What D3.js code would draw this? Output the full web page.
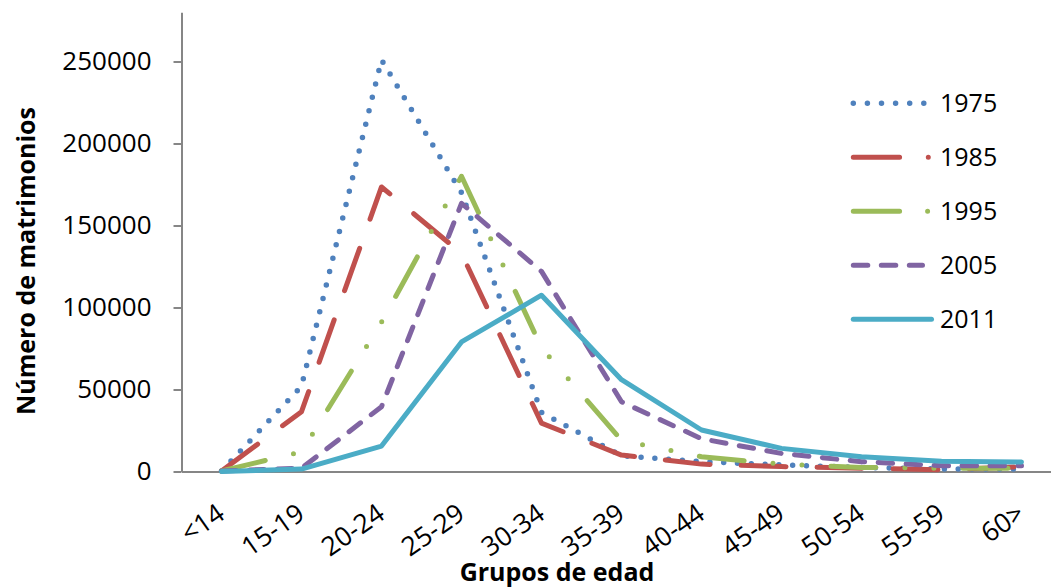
<!DOCTYPE html>
<html><head><meta charset="utf-8">
<script src="https://cdn.jsdelivr.net/npm/d3@7"></script>
<style>
body{margin:0;background:#fff}
svg{display:block}
text{font-family:"Open Sans",sans-serif}
</style>
</head><body>
<svg id="c" width="1051" height="587"></svg>
<script>
const categories = ["<14","15-19","20-24","25-29","30-34","35-39","40-44","45-49","50-54","55-59","60>"];
const s1975 = [300, 52000, 251000, 170000, 36000, 9500, 6000, 4000, 2500, 1500, 1500];
const s1985 = [300, 36500, 173500, 133000, 29500, 10000, 4500, 3000, 2000, 1000, 3000];
const s1995 = [300, 12000, 91000, 180000, 75500, 19000, 9000, 4500, 2500, 2000, 2000];
const s2005 = [300, 2000, 39500, 163500, 122000, 42500, 20000, 11000, 6000, 3500, 3500];
const s2011 = [0, 1500, 15500, 79000, 107500, 56000, 25300, 14100, 9000, 6300, 5800];
const seriesNames = ["1975","1985","1995","2005","2011"];
const yTicks = [0, 50000, 100000, 150000, 200000, 250000];
const xTitle = "Grupos de edad";
const yTitle = "Número de matrimonios";

const seriesValues = [s1975, s1985, s1995, s2005, s2011];
const colors = ["#4F81BD", "#C0504D", "#9BBB59", "#8064A2", "#4BACC6"];
const dashes = ["0 13.8", "45 31", "45 29 0 29 0 29", "14.5 13.5", null];
const legendDashes = ["0 14.1", "46.3 28.7 0 100", "46.3 28 0 100", "14.5 13.5", null];
const lw = 5;

const svg = d3.select("#c");
const xb = d3.scaleBand().domain(categories).range([181.5, 1061.5]).padding(0);
const xc = c => xb(c) + xb.bandwidth() / 2;
const y = d3.scaleLinear().domain([0, 280000]).range([471.5, 12.3]);

// Y axis
const ya = svg.append("g").attr("transform", "translate(181.5,0)")
  .call(d3.axisLeft(y).tickValues(yTicks).tickSize(8).tickSizeOuter(0).tickPadding(22).tickFormat(d3.format("d")));
ya.select(".domain").attr("stroke", "#868686").attr("stroke-width", 2);
ya.selectAll(".tick line").attr("stroke", "#868686").attr("stroke-width", 2);
ya.selectAll(".tick text").attr("font-size", 26).attr("fill", "#000").attr("font-family", '"Open Sans",sans-serif');

// X axis
const xa = svg.append("g").attr("transform", "translate(0,471.5)")
  .call(d3.axisBottom(xb).tickSize(0).tickSizeOuter(0));
xa.select(".domain").attr("stroke", "#868686").attr("stroke-width", 2);
xa.selectAll(".tick text")
  .attr("font-size", 26.5).attr("fill", "#000").attr("font-family", '"Open Sans",sans-serif')
  .attr("text-anchor", "end").attr("x", 0).attr("y", 0).attr("dy", 0)
  .attr("transform", "translate(5,46) rotate(-35)");

// Lines
const line = d3.line().x(d => xc(d.c)).y(d => y(d.v));
seriesValues.forEach((vals, i) => {
  const data = categories.map((c, j) => ({c, v: vals[j]}));
  svg.append("path").datum(data)
    .attr("d", line)
    .attr("fill", "none")
    .attr("stroke", colors[i])
    .attr("stroke-width", i === 0 ? 5.5 : lw)
    .attr("stroke-linecap", "round")
    .attr("stroke-linejoin", "round")
    .attr("stroke-dasharray", dashes[i]);
});

// Legend
const lg = svg.append("g");
seriesNames.forEach((n, i) => {
  const ly = 103.3 + i * 54;
  lg.append("line")
    .attr("x1", 853.3).attr("x2", i === 0 ? 925 : (i === 3 ? 922.5 : (i === 4 ? 931.5 : 931)))
    .attr("y1", ly).attr("y2", ly)
    .attr("stroke", colors[i]).attr("stroke-width", i === 0 ? 5.5 : lw)
    .attr("stroke-linecap", "round")
    .attr("stroke-dasharray", legendDashes[i]);
  lg.append("text").attr("x", 940).attr("y", ly).attr("dy", "0.35em")
    .attr("font-size", 25).attr("fill", "#000").text(n);
});

// Titles
svg.append("text").attr("x", 557).attr("y", 581).attr("text-anchor", "middle")
  .attr("font-size", 25).attr("font-weight", "bold").attr("fill", "#000").text(xTitle);
svg.append("text").attr("transform", "translate(35,261) rotate(-90)").attr("text-anchor", "middle")
  .attr("font-size", 25).attr("font-weight", "bold").attr("fill", "#000").text(yTitle);
</script>
</body></html>
